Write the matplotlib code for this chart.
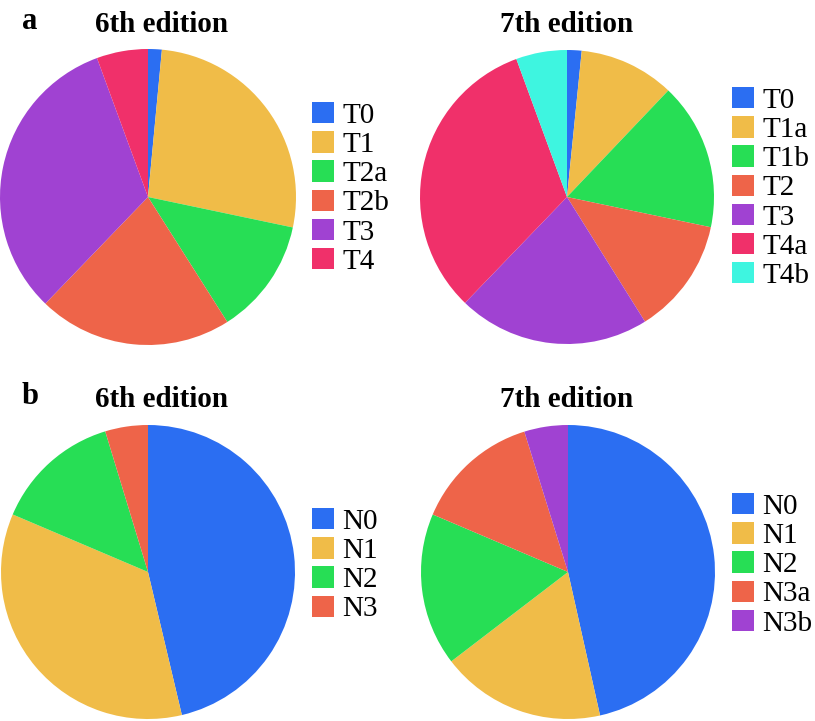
import matplotlib
matplotlib.use("Agg")
import matplotlib.pyplot as plt

plt.rcParams['font.family'] = 'serif'
plt.rcParams['font.serif'] = ['Liberation Serif', 'Times New Roman', 'DejaVu Serif']

# colours used by the original figure
blue = "#2B6EF2"
yellow = "#F0BC48"
green = "#27DE55"
orange = "#EE6449"
purple = "#A042D2"
pink = "#F0306A"
cyan = "#3EF5E0"

# T category, 6th edition (%)
t6_labels = ["T0", "T1", "T2a", "T2b", "T3", "T4"]
t6_values = [1.5, 26.8, 12.7, 21.2, 32.2, 5.6]
t6_colors = [blue, yellow, green, orange, purple, pink]

# T category, 7th edition (%)
t7_labels = ["T0", "T1a", "T1b", "T2", "T3", "T4a", "T4b"]
t7_values = [1.6, 10.5, 16.2, 12.8, 21.1, 32.2, 5.6]
t7_colors = [blue, yellow, green, orange, purple, pink, cyan]

# N category, 6th edition (%)
n6_labels = ["N0", "N1", "N2", "N3"]
n6_values = [46.3, 35.1, 13.9, 4.7]
n6_colors = [blue, yellow, green, orange]

# N category, 7th edition (%)
n7_labels = ["N0", "N1", "N2", "N3a", "N3b"]
n7_values = [46.5, 18.1, 16.8, 13.8, 4.8]
n7_colors = [blue, yellow, green, orange, purple]

W, H = 815, 721
fig = plt.figure(figsize=(W / 100, H / 100), dpi=100)


def pie_panel(cx, cy, r, values, labels, colors, leg_x, leg_top):
    ax = fig.add_axes([(cx - r) / W, 1 - (cy + r) / H, 2 * r / W, 2 * r / H])
    wedges, _ = ax.pie(values, colors=colors, startangle=90, counterclock=False,
                       radius=1, wedgeprops=dict(linewidth=0))
    ax.set_xlim(-1, 1)
    ax.set_ylim(-1, 1)
    ax.set_aspect("equal")
    ax.axis("off")
    fig.legend(wedges, labels, loc="upper left",
               bbox_to_anchor=(leg_x / W, 1 - leg_top / H),
               frameon=False, fontsize=21, handlelength=0.75, handleheight=0.75,
               handletextpad=0.3, labelspacing=0.08, borderpad=0,
               borderaxespad=0)
    return ax


pie_panel(148, 197, 148, t6_values, t6_labels, t6_colors, 312, 102)
pie_panel(567, 197, 147, t7_values, t7_labels, t7_colors, 732, 87)
pie_panel(148, 572, 147, n6_values, n6_labels, n6_colors, 312, 508)
pie_panel(568, 572, 147, n7_values, n7_labels, n7_colors, 732, 493)

# titles
title_kw = dict(ha="center", va="baseline", fontsize=21, fontweight="bold")
fig.text(162 / W, 1 - 32 / H, "6th edition", **title_kw)
fig.text(567 / W, 1 - 32 / H, "7th edition", **title_kw)
fig.text(162 / W, 1 - 407 / H, "6th edition", **title_kw)
fig.text(567 / W, 1 - 407 / H, "7th edition", **title_kw)

# panel letters
fig.text(22 / W, 1 - 29 / H, "a", ha="left", va="baseline",
         fontsize=22, fontweight="bold")
fig.text(22 / W, 1 - 404 / H, "b", ha="left", va="baseline",
         fontsize=22, fontweight="bold")

fig.savefig("out.png", dpi=100, facecolor="white")
